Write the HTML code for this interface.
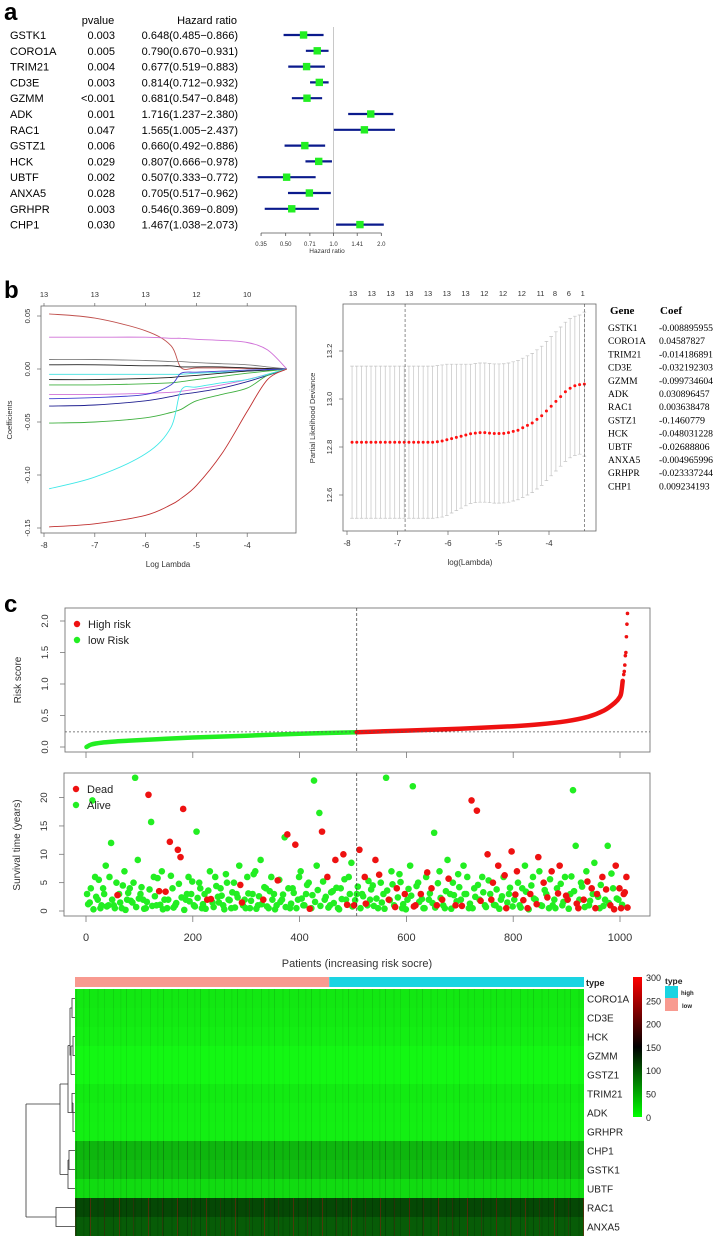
<!DOCTYPE html>
<html><head><meta charset="utf-8"><style>
html,body{margin:0;padding:0;background:#fff}
svg{display:block;font-family:"Liberation Sans",sans-serif}
.ser{font-family:"Liberation Serif",serif}
</style></head><body>
<svg id="fig" width="713" height="1242" viewBox="0 0 713 1242" xmlns="http://www.w3.org/2000/svg">
<defs>
<linearGradient id="cgrad" x1="0" y1="1" x2="0" y2="0">
<stop offset="0" stop-color="#00ff00"/><stop offset="0.5" stop-color="#000000"/><stop offset="1" stop-color="#ff0000"/>
</linearGradient>
<pattern id="stripes" width="37" height="10" patternUnits="userSpaceOnUse">
<rect x="2" y="0" width="1" height="10" fill="#000" opacity="0.18"/>
<rect x="9" y="0" width="1.5" height="10" fill="#000" opacity="0.1"/>
<rect x="15" y="0" width="1" height="10" fill="#000" opacity="0.22"/>
<rect x="23" y="0" width="2" height="10" fill="#000" opacity="0.08"/>
<rect x="30" y="0" width="1" height="10" fill="#000" opacity="0.15"/>
</pattern>
<pattern id="redspecks" width="29" height="10" patternUnits="userSpaceOnUse">
<rect x="3" y="0" width="1" height="10" fill="#a01010" opacity="0.45"/>
<rect x="17" y="0" width="1" height="10" fill="#601010" opacity="0.35"/>
</pattern>
</defs>
<g id="panelA"></g>
<g id="panelB1"></g>
<g id="panelB2"></g>
<g id="panelC1"></g>
<g id="panelC2"></g>
<g id="panelC3"></g>
<text x="4" y="20" font-size="24" font-weight="bold">a</text>
<text x="4" y="298" font-size="24" font-weight="bold">b</text>
<text x="4" y="612" font-size="24" font-weight="bold">c</text>
</svg>
<script>
// ---------- Panel A data ----------
const forestGenes = ["GSTK1","CORO1A","TRIM21","CD3E","GZMM","ADK","RAC1","GSTZ1","HCK","UBTF","ANXA5","GRHPR","CHP1"];
const forestP = ["0.003","0.005","0.004","0.003","<0.001","0.001","0.047","0.006","0.029","0.002","0.028","0.003","0.030"];
const forestHR = [0.648,0.790,0.677,0.814,0.681,1.716,1.565,0.660,0.807,0.507,0.705,0.546,1.467];
const forestLo = [0.485,0.670,0.519,0.712,0.547,1.237,1.005,0.492,0.666,0.333,0.517,0.369,1.038];
const forestHi = [0.866,0.931,0.883,0.932,0.848,2.380,2.437,0.886,0.978,0.772,0.962,0.809,2.073];
const forestTicks = ["0.35","0.50","0.71","1.0","1.41","2.0"];

// ---------- Panel B1 data ----------
const lassoLam = [-7.9,-7,-6,-5.5,-5.3,-5,-4.5,-4,-3.6,-3.22];
const lassoCoef = [
 [0.052,0.048,0.036,0.022,0.001,0.001,0.001,0.0005,0.0002,0],
 [0.030,0.030,0.030,0.029,0.029,0.028,0.027,0.025,0.018,0],
 [0.009,0.009,0.008,0.007,0.007,0.006,0.005,0.004,0.002,0],
 [0.004,0.004,0.003,0.003,0.002,0.002,0.002,0.001,0.0005,0],
 [-0.005,-0.005,-0.005,-0.005,-0.005,-0.004,-0.003,-0.002,-0.001,0],
 [-0.010,-0.010,-0.009,-0.008,-0.007,-0.006,-0.004,-0.002,-0.001,0],
 [-0.015,-0.015,-0.014,-0.013,-0.012,-0.010,-0.007,-0.004,-0.002,0],
 [-0.024,-0.024,-0.023,-0.022,-0.021,-0.019,-0.015,-0.010,-0.005,0],
 [-0.028,-0.027,-0.024,-0.015,-0.004,-0.003,-0.002,-0.001,-0.0005,0],
 [-0.035,-0.034,-0.030,-0.026,-0.024,-0.022,-0.018,-0.012,-0.006,0],
 [-0.051,-0.050,-0.046,-0.041,-0.038,-0.030,-0.024,-0.018,-0.006,0],
 [-0.113,-0.102,-0.080,-0.055,-0.020,-0.017,-0.013,-0.010,-0.005,0],
 [-0.149,-0.146,-0.138,-0.128,-0.122,-0.110,-0.080,-0.040,-0.010,0]
];
const lassoColors = ["#c0504d","#d070d8","#808080","#222222","#40e0e0","#222222","#40b040","#d070d8","#4040d0","#202090","#40b040","#40e8e8","#c03030"];
const lassoTopLabels = ["13","13","13","12","10"];
const lassoXTicks = [-8,-7,-6,-5,-4];
const lassoYTicks = [0.05,0.00,-0.05,-0.10,-0.15];

// ---------- Panel B2 data ----------
const cvm = [12.82,12.82,12.82,12.82,12.82,12.82,12.82,12.82,12.82,12.82,12.82,12.82,12.82,12.82,12.82,12.82,12.82,12.82,
 12.822,12.825,12.83,12.835,12.84,12.845,12.85,12.855,12.858,12.86,12.86,12.858,12.856,12.856,12.857,12.86,12.865,12.87,
 12.88,12.89,12.9,12.915,12.93,12.95,12.97,12.99,13.01,13.03,13.045,13.055,13.06,13.062];
const cvsd = [0.317,0.317,0.317,0.317,0.317,0.317,0.317,0.317,0.317,0.317,0.317,0.317,0.317,0.317,0.317,0.317,0.317,0.317,0.317,0.317,
 0.315,0.31,0.305,0.30,0.295,0.29,0.29,0.29,0.29,0.29,0.29,0.29,0.29,0.29,0.29,0.29,0.29,0.29,0.29,0.29,
 0.29,0.29,0.29,0.29,0.29,0.29,0.29,0.29,0.29,0.30];
const cvTopLabels = ["13","13","13","13","13","13","13","12","12","12","11","8","6","1"];
const cvYTicks = [13.2,13.0,12.8,12.6];
const cvLamMin = -6.85, cvLam1se = -3.3;
const coefGenes = ["GSTK1","CORO1A","TRIM21","CD3E","GZMM","ADK","RAC1","GSTZ1","HCK","UBTF","ANXA5","GRHPR","CHP1"];
const coefVals = ["-0.008895955","0.04587827","-0.014186891","-0.032192303","-0.099734604","0.030896457","0.003638478","-0.1460779","-0.048031228","-0.02688806","-0.004965996","-0.023337244","0.009234193"];

// ---------- Panel C1 data ----------
const riskIdx = [1,10,30,60,100,150,200,300,400,507,600,700,800,850,900,940,970,990,1000,1003,1005];
const riskVal = [0.0,0.04,0.07,0.09,0.11,0.13,0.15,0.18,0.21,0.235,0.26,0.29,0.33,0.36,0.41,0.48,0.58,0.70,0.80,0.9,1.05];
const riskTailIdx = [1007,1008,1009,1010,1011,1012,1013,1014];
const riskTailVal = [1.15,1.2,1.3,1.45,1.5,1.75,1.95,2.12];
const riskCut = 507, riskThresh = 0.24;
const riskYTicks = [0.0,0.5,1.0,1.5,2.0];
const patientTicks = [0,200,400,600,800,1000];

// ---------- Panel C2 data (patients at rank 5k+2 and 5k+4) ----------
const survTime = [3,1.5,19.5,6,2,0.5,4,8,1,12,
 1,5,3,0.5,7,2,4,1.5,23.5,9,
 3,2,0.5,20.5,15.7,6,1,3.5,7,2,
 0.5,12.2,4,1,10.8,9.5,18,2,6,3,
 1,14,5,0.5,3,2,7,1.5,6,2.5,
 4,1,6.5,2,0.5,5,3,8,1.5,2,
 6,0.5,3,7,1,9,2,4,0.5,6,
 3,1,5.5,2,13,13.5,0.5,4,11.7,2,
 7,1,3,5,0.5,23,8,17.3,14,2,
 6,1,3.5,9,0.5,4,10,2,6,8.5,
 1,3,
 10.8,3,6,1,2,4.5,9,0.5,5,3,
 23.5,2,7,1,4,6.5,0.5,3,2,8,
 22,1,5,3,0.5,6,2,4,13.8,1,
 7,2,0.5,9,3,5,1,6.5,2,8,
 3,0.5,19.5,4,17.7,2,6,1,10,3,
 5,1,8,2,6,0.5,3,10.5,2,7,
 1,4,8,0.5,3,6,2,9.5,1,5,
 3,0.5,7,2,4,8,1,6,2,3,
 21.3,11.5,0.5,5,2,7,1,4,8.5,3,
 0.5,6,2,11.5,1,4,8,2,0.5,3,
 6];
const survDeadK = [23,27,31,34,35,36,45,58,66,75,78,88,90,93,96,100,102,104,108,113,116,119,123,125,129,131,133,138,144,146,150,
 152,154,157,159,161,165,166,169,171,174,177,180,184,186,189,191,193,196,198,200,201,202];
const survTime2 = [1.2,4,0.3,2.5,5.5,1,3,0.8,6,2,
 0.5,2.8,1.5,4.5,0.2,3.2,1.8,5,0.7,2.2,
 4.2,0.4,1.6,3.8,0.9,2.6,5.8,1.1,0.3,3.4,
 2,6.2,0.6,1.4,4.8,2.4,0.2,3,1.7,5.2,
 0.8,2.3,4,1.2,0.4,3.6,2.1,0.7,4.4,1.5,
 2.7,0.3,5,1.9,3.3,0.6,2.4,4.6,1,0.5,
 3.1,1.8,6.5,0.4,2.6,1.2,4.2,0.8,3.5,2,
 0.3,5.4,1.6,2.9,0.7,4,1.3,3.2,0.5,6,
 2.2,1,4.6,0.4,2.8,1.6,3.7,0.9,5.2,2.5,
 0.6,3.3,1.4,4.1,0.3,2.1,5.6,1.1,3,0.8,
 1.9,4.3,
 0.5,2.6,1.3,5.3,3.8,0.9,2.2,6.4,1.5,0.4,
 3.6,1.9,4.7,0.7,2.4,5.1,1.2,0.3,3.9,2.7,
 0.8,4.4,1.6,2.1,0.5,6.8,3.1,1.4,0.6,4.9,
 2.3,1,3.5,5.7,0.4,2.8,1.7,4.2,0.9,3,
 6,1.3,0.5,2.5,4.6,1.8,3.3,0.7,5.4,2,
 1.1,3.8,0.4,2.6,6.3,1.5,4.1,0.8,2.9,5,
 0.6,1.9,3.4,0.3,4.5,2.2,1.2,7,0.9,3.7,
 2.4,5.6,1,0.5,3.1,4.8,1.6,2.7,0.4,6.1,
 3.5,1.3,2,4.3,0.7,5.2,1.8,3,0.5,2.5,
 4.6,0.9,3.8,1.4,6.6,0.3,2.2,4,1.1,3.3,
 0.6];
const survDeadK2 = [11,29,46,57,71,83,97,104,109,115,122,127,135,140,147,151,156,160,163,168,172,176,179,183,187,190,194,197,199,201,202];
const survYTicks = [0,5,10,15,20];

// ---------- Panel C3 data ----------
const heatGenes = ["CORO1A","CD3E","HCK","GZMM","GSTZ1","TRIM21","ADK","GRHPR","CHP1","GSTK1","UBTF","RAC1","ANXA5"];
const heatMean = [14,12,10,4,4,12,10,9,45,40,22,112,100];
const lowCount = 507, totalCount = 1015;
const scaleLabels = ["300","250","200","150","100","50","0"];

const NS = "http://www.w3.org/2000/svg";
function mk(parent, tag, attrs, text){
  const e = document.createElementNS(NS, tag);
  for (const k in attrs) e.setAttribute(k, attrs[k]);
  if (text !== undefined) e.textContent = text;
  parent.appendChild(e);
  return e;
}
function smoothPath(pts){
  let d = 'M'+pts[0][0].toFixed(1)+','+pts[0][1].toFixed(1);
  for (let i=0;i<pts.length-1;i++){
    const p0=pts[Math.max(0,i-1)], p1=pts[i], p2=pts[i+1], p3=pts[Math.min(pts.length-1,i+2)];
    const c1=[p1[0]+(p2[0]-p0[0])/6, p1[1]+(p2[1]-p0[1])/6];
    const c2=[p2[0]-(p3[0]-p1[0])/6, p2[1]-(p3[1]-p1[1])/6];
    d += 'C'+c1[0].toFixed(1)+','+c1[1].toFixed(1)+' '+c2[0].toFixed(1)+','+c2[1].toFixed(1)+' '+p2[0].toFixed(1)+','+p2[1].toFixed(1);
  }
  return d;
}

// ===== Panel A =====
(function(){
  const g = document.getElementById('panelA');
  const rowY = i => 35 + i*15.8;
  const xs = v => 333.5 + Math.log(v)*69;
  let t;
  t = mk(g,'text',{x:98,y:24,'font-size':11,'text-anchor':'middle'},'pvalue');
   
  t = mk(g,'text',{x:237,y:24,'font-size':11,'text-anchor':'end'},'Hazard ratio');
   
  const ref = mk(g,'line',{x1:xs(1),x2:xs(1),y1:27,y2:233,stroke:'#c8c8c8','stroke-width':1});
   
  forestGenes.forEach((gn,i)=>{
    const y = rowY(i);
    let e = mk(g,'text',{x:10,y:y+4,'font-size':11},gn);
     
    e = mk(g,'text',{x:115,y:y+4,'font-size':11,'text-anchor':'end'},forestP[i]);
     
    e = mk(g,'text',{x:238,y:y+4,'font-size':11,'text-anchor':'end'},forestHR[i].toFixed(3)+'('+forestLo[i].toFixed(3)+'\u2212'+forestHi[i].toFixed(3)+')');
     
    e = mk(g,'line',{x1:xs(forestLo[i]),x2:xs(forestHi[i]),y1:y,y2:y,stroke:'#0a1a8c','stroke-width':2.2});
     
    e = mk(g,'rect',{x:xs(forestHR[i])-3.7,y:y-3.7,width:7.4,height:7.4,fill:'#22ee22'});
     
  });
  let ax = mk(g,'line',{x1:xs(0.35),x2:xs(2.0),y1:233,y2:233,stroke:'#555','stroke-width':0.8});
   
  forestTicks.forEach(tk=>{
    const x = xs(parseFloat(tk));
    let e = mk(g,'line',{x1:x,x2:x,y1:233,y2:236,stroke:'#555','stroke-width':0.8});
     
    e = mk(g,'text',{x:x,y:246,'font-size':6,'text-anchor':'middle',fill:'#333'},tk);
     
  });
  t = mk(g,'text',{x:327,y:253,'font-size':6.5,'text-anchor':'middle',fill:'#333'},'Hazard ratio');
   
})();

// ===== Panel B1 =====
(function(){
  const g = document.getElementById('panelB1');
  const L=41,R=296,T=306,B=533;
  const xs = v => 44 + (v+8)*50.8;
  const ys = v => 369 - v*1060;
  let e = mk(g,'rect',{x:L,y:T,width:R-L,height:B-T,fill:'none',stroke:'#666','stroke-width':0.8});
   
  lassoCoef.forEach((arr,ci)=>{
    const pts = arr.map((v,j)=>[xs(lassoLam[j]), ys(v)]);
    const p = mk(g,'path',{d:smoothPath(pts),fill:'none',stroke:lassoColors[ci],'stroke-width':0.9,'stroke-linejoin':'round'});
     
  });
  lassoXTicks.forEach((v,i)=>{
    const x = xs(v);
    let t = mk(g,'line',{x1:x,x2:x,y1:B,y2:B+4,stroke:'#666','stroke-width':0.7});
     
    t = mk(g,'text',{x:x,y:B+15,'font-size':8,'text-anchor':'middle',fill:'#333'},String(v));
     
    t = mk(g,'line',{x1:x,x2:x,y1:T,y2:T-3,stroke:'#666','stroke-width':0.7});
     
    t = mk(g,'text',{x:x,y:297,'font-size':7.5,'text-anchor':'middle',fill:'#333'},lassoTopLabels[i]);
     
  });
  lassoYTicks.forEach(v=>{
    const y = ys(v);
    let t = mk(g,'line',{x1:L,x2:L-4,y1:y,y2:y,stroke:'#666','stroke-width':0.7});
     
    t = mk(g,'text',{x:30,y:y,'font-size':7.5,'text-anchor':'middle',fill:'#333',transform:'rotate(-90 30 '+y+')'},v.toFixed(2));
     
  });
  let t = mk(g,'text',{x:12,y:420,'font-size':7.5,'text-anchor':'middle',fill:'#333',transform:'rotate(-90 12 420)'},'Coefficients');
   
  t = mk(g,'text',{x:168,y:567,'font-size':8,'text-anchor':'middle',fill:'#333'},'Log Lambda');
   
})();

// ===== Panel B2 =====
(function(){
  const g = document.getElementById('panelB2');
  const L=343,R=596,T=304,B=531;
  const xs = v => 347 + (v+8)*50.5;
  const ys = v => 399 - (v-13.0)*240;
  let e = mk(g,'rect',{x:L,y:T,width:R-L,height:B-T,fill:'none',stroke:'#666','stroke-width':0.8});
   
  const n = cvm.length;
  for (let i=0;i<n;i++){
    const lam = -7.9 + i*(4.6/(n-1));
    const x = xs(lam), yu = ys(cvm[i]+cvsd[i]), yl = ys(cvm[i]-cvsd[i]);
    let b = mk(g,'path',{d:`M${x},${yu}L${x},${yl}M${x-1.8},${yu}L${x+1.8},${yu}M${x-1.8},${yl}L${x+1.8},${yl}`,stroke:'#c4c4c4','stroke-width':0.7,fill:'none'});
     
  }
  for (let i=0;i<n;i++){
    const lam = -7.9 + i*(4.6/(n-1));
    let c = mk(g,'circle',{cx:xs(lam),cy:ys(cvm[i]),r:1.5,fill:'#ff1010'});
     
  }
  [cvLamMin,cvLam1se].forEach(v=>{
    let l = mk(g,'line',{x1:xs(v),x2:xs(v),y1:T,y2:B,stroke:'#444','stroke-width':0.6,'stroke-dasharray':'3,2'});
     
  });
  [-8,-7,-6,-5,-4].forEach(v=>{
    const x = xs(v);
    let t = mk(g,'line',{x1:x,x2:x,y1:B,y2:B+4,stroke:'#666','stroke-width':0.7});
     
    t = mk(g,'text',{x:x,y:B+15,'font-size':8,'text-anchor':'middle',fill:'#333'},String(v));
     
  });
  cvTopLabels.forEach((lb,i)=>{
    const x = i<11 ? 353 + i*18.75 : 541 + (i-10)*13.9;
    let t = mk(g,'text',{x:x,y:296,'font-size':7.5,'text-anchor':'middle',fill:'#333'},lb);
     
  });
  cvYTicks.forEach(v=>{
    const y = ys(v);
    let t = mk(g,'line',{x1:L,x2:L-4,y1:y,y2:y,stroke:'#666','stroke-width':0.7});
     
    t = mk(g,'text',{x:332,y:y,'font-size':7.5,'text-anchor':'middle',fill:'#333',transform:'rotate(-90 332 '+y+')'},v.toFixed(1));
     
  });
  let t = mk(g,'text',{x:315,y:418,'font-size':7.5,'text-anchor':'middle',fill:'#333',transform:'rotate(-90 315 418)'},'Partial Likelihood Deviance');
   
  t = mk(g,'text',{x:470,y:565,'font-size':8,'text-anchor':'middle',fill:'#333'},'log(Lambda)');
   
  // coefficient table
  t = mk(g,'text',{x:610,y:314,'font-size':11,'font-weight':'bold',class:'ser'},'Gene');
   
  t = mk(g,'text',{x:660,y:314,'font-size':11,'font-weight':'bold',class:'ser'},'Coef');
   
  coefGenes.forEach((gn,i)=>{
    const y = 331 + i*13.2;
    let a = mk(g,'text',{x:608,y:y,'font-size':9.5,class:'ser'},gn);
     
    a = mk(g,'text',{x:659,y:y,'font-size':9,class:'ser',textLength:Math.min(54,coefVals[i].length*4.6),lengthAdjust:'spacingAndGlyphs'},coefVals[i]);
     
  });
})();

// ===== Panel C1 =====
const pxs = v => 86 + v*0.534;
(function(){
  const g = document.getElementById('panelC1');
  const L=65,R=650,T=608,B=752;
  const ys = v => 747 - v*63;
  let e = mk(g,'rect',{x:L,y:T,width:R-L,height:B-T,fill:'none',stroke:'#777','stroke-width':0.9});
   
  const lowPts=[], highPts=[];
  riskIdx.forEach((ix,j)=>{
    const pt = [pxs(ix), ys(riskVal[j])];
    if (ix<=riskCut) lowPts.push(pt);
    if (ix>=riskCut) highPts.push(pt);
  });
  let p = mk(g,'path',{d:smoothPath(lowPts),fill:'none',stroke:'#22ee22','stroke-width':4.5,'stroke-linecap':'round'});
   
  p = mk(g,'path',{d:smoothPath(highPts),fill:'none',stroke:'#ee1111','stroke-width':4.5,'stroke-linecap':'round'});
   
  riskTailIdx.forEach((ix,j)=>{
    let c = mk(g,'circle',{cx:pxs(ix),cy:ys(riskTailVal[j]),r:1.8,fill:'#ee1111'});
     
  });
  let l = mk(g,'line',{x1:L,x2:R,y1:ys(riskThresh),y2:ys(riskThresh),stroke:'#555','stroke-width':0.7,'stroke-dasharray':'2,2'});
   
  l = mk(g,'line',{x1:pxs(riskCut),x2:pxs(riskCut),y1:T,y2:B,stroke:'#333','stroke-width':0.7,'stroke-dasharray':'3,2'});
   
  patientTicks.forEach(v=>{
    let t = mk(g,'line',{x1:pxs(v),x2:pxs(v),y1:B,y2:B+6,stroke:'#777','stroke-width':0.8});
     
  });
  riskYTicks.forEach(v=>{
    const y = ys(v);
    let t = mk(g,'line',{x1:L,x2:L-5,y1:y,y2:y,stroke:'#777','stroke-width':0.8});
     
    t = mk(g,'text',{x:48,y:y,'font-size':9.5,'text-anchor':'middle',fill:'#333',transform:'rotate(-90 48 '+y+')'},v.toFixed(1));
     
  });
  let t = mk(g,'text',{x:21,y:680,'font-size':10,'text-anchor':'middle',fill:'#333',transform:'rotate(-90 21 680)'},'Risk score');
   
  let c = mk(g,'circle',{cx:77,cy:624,r:3.2,fill:'#ee1111'});
   
  t = mk(g,'text',{x:88,y:628,'font-size':11,fill:'#222'},'High risk');
   
  c = mk(g,'circle',{cx:77,cy:640,r:3.2,fill:'#22ee22'});
   
  t = mk(g,'text',{x:88,y:644,'font-size':11,fill:'#222'},'low Risk');
   
})();

// ===== Panel C2 =====
(function(){
  const g = document.getElementById('panelC2');
  const L=64,R=650,T=773,B=916;
  const ys = v => 911 - v*5.67;
  let e = mk(g,'rect',{x:L,y:T,width:R-L,height:B-T,fill:'none',stroke:'#777','stroke-width':0.9});
   
  const dead = new Set(survDeadK), dead2 = new Set(survDeadK2);
  const all = [];
  survTime.forEach((v,k)=>all.push([k*5+2, v, dead.has(k)]));
  survTime2.forEach((v,k)=>all.push([k*5+4, v, dead2.has(k)]));
  [false,true].forEach(isDead=>{
    all.forEach(pt=>{
      if (pt[2]!==isDead) return;
      const c = mk(g,'circle',{cx:pxs(pt[0]),cy:ys(pt[1]),r:3.3,fill:isDead?'#ee1111':'#22ee22'});
      
      
    });
  });
  let l = mk(g,'line',{x1:pxs(riskCut),x2:pxs(riskCut),y1:T,y2:B,stroke:'#333','stroke-width':0.7,'stroke-dasharray':'3,2'});
   
  patientTicks.forEach(v=>{
    let t = mk(g,'line',{x1:pxs(v),x2:pxs(v),y1:B,y2:B+6,stroke:'#777','stroke-width':0.8});
     
    t = mk(g,'text',{x:pxs(v),y:941,'font-size':11,'text-anchor':'middle',fill:'#333'},String(v));
     
  });
  survYTicks.forEach(v=>{
    const y = ys(v);
    let t = mk(g,'line',{x1:L,x2:L-5,y1:y,y2:y,stroke:'#777','stroke-width':0.8});
     
    t = mk(g,'text',{x:47,y:y,'font-size':9.5,'text-anchor':'middle',fill:'#333',transform:'rotate(-90 47 '+y+')'},String(v));
     
  });
  let t = mk(g,'text',{x:20,y:845,'font-size':10,'text-anchor':'middle',fill:'#333',transform:'rotate(-90 20 845)'},'Survival time (years)');
   
  t = mk(g,'text',{x:357,y:967,'font-size':11,'text-anchor':'middle',fill:'#333'},'Patients (increasing risk socre)');
   
  let c = mk(g,'circle',{cx:76,cy:789,r:3.2,fill:'#ee1111'});
   
  t = mk(g,'text',{x:87,y:793,'font-size':11,fill:'#222'},'Dead');
   
  c = mk(g,'circle',{cx:76,cy:805,r:3.2,fill:'#22ee22'});
   
  t = mk(g,'text',{x:87,y:809,'font-size':11,fill:'#222'},'Alive');
   
})();

// ===== Panel C3 =====
(function(){
  const g = document.getElementById('panelC3');
  const L=75,R=584,T=989,rowH=19;
  function col(v){
    const f = Math.max(0,Math.min(300,v));
    if (f<=150){ const gch = Math.round(245*(1-f/150)+10); return `rgb(${Math.round(20*(1-f/150))},${gch},${Math.round(20*(1-f/150))})`; }
    const r = Math.round(255*((f-150)/150)); return `rgb(${r},0,0)`;
  }
  const split = L + (R-L)*lowCount/totalCount;
  let a = mk(g,'rect',{x:L,y:977,width:split-L,height:10,fill:'#f89a90'});
   
  a = mk(g,'rect',{x:split,y:977,width:R-split,height:10,fill:'#1ad4e2'});
   
  let t = mk(g,'text',{x:586,y:986,'font-size':9,'font-weight':'bold',fill:'#222'},'type');
   
  heatGenes.forEach((gn,i)=>{
    const y = T + i*rowH;
    let r = mk(g,'rect',{x:L,y:y,width:R-L,height:rowH,fill:col(heatMean[i])});
     
    r = mk(g,'rect',{x:L,y:y,width:R-L,height:rowH,fill:'url(#stripes)',opacity:Math.min(1,0.25+heatMean[i]/60)});
     
    if (heatMean[i]>90){
      r = mk(g,'rect',{x:L,y:y,width:R-L,height:rowH,fill:'url(#redspecks)'});
       
    }
    t = mk(g,'text',{x:587,y:y+rowH/2+4,'font-size':10,fill:'#222'},gn);
     
  });
  // dendrogram
  const cy = i => T + i*rowH + rowH/2;
  const d = `M75,${cy(0)}H72V${cy(1)}H75 M72,${(cy(0)+cy(1))/2}H70
 M75,${cy(2)}H73V${cy(3)}H75 M73,${(cy(2)+cy(3))/2}H71 M75,${cy(4)}H71 M71,${(cy(2)+cy(3))/2}V${cy(4)}
 M70,${(cy(0)+cy(1))/2}V${cy(3)} M70,${cy(3)-10}H68
 M75,${cy(5)}H72V${cy(6)}H75 M72,${(cy(5)+cy(6))/2}H73 M75,${cy(7)}H73V${(cy(5)+cy(6))/2}
 M72,${cy(6)}H70 M68,${cy(3)-10}V${cy(6)}H70
 M75,${cy(8)}H69V${cy(9)}H75 M69,${(cy(8)+cy(9))/2}H68 M75,${cy(10)}H68V${(cy(8)+cy(9))/2}
 M68,${cy(9)+5}H60 M68,${(cy(3)+cy(6))/2}H60 M60,${(cy(3)+cy(6))/2}V${cy(9)+5}
 M60,${1104}H26 M75,${cy(11)}H56V${cy(12)}H75 M56,${(cy(11)+cy(12))/2}H26 M26,1104V${(cy(11)+cy(12))/2}`;
  let p = mk(g,'path',{d:d,fill:'none',stroke:'#333','stroke-width':0.8});
   
  // color scale legend
  let r = mk(g,'rect',{x:633,y:977,width:9,height:140,fill:'url(#cgrad)'});
   
  scaleLabels.forEach((lb,i)=>{
    t = mk(g,'text',{x:646,y:981+i*23.3,'font-size':9,fill:'#222'},lb);
     
  });
  t = mk(g,'text',{x:665,y:984,'font-size':8.5,'font-weight':'bold',fill:'#222'},'type');
   
  r = mk(g,'rect',{x:665,y:986,width:13,height:12,fill:'#1ad4e2'});
   
  t = mk(g,'text',{x:681,y:995,'font-size':6,'font-weight':'bold',fill:'#222'},'high');
   
  r = mk(g,'rect',{x:665,y:998,width:13,height:13,fill:'#f89a90'});
   
  t = mk(g,'text',{x:682,y:1008,'font-size':6,'font-weight':'bold',fill:'#222'},'low');
   
})();
</script>
</body></html>
